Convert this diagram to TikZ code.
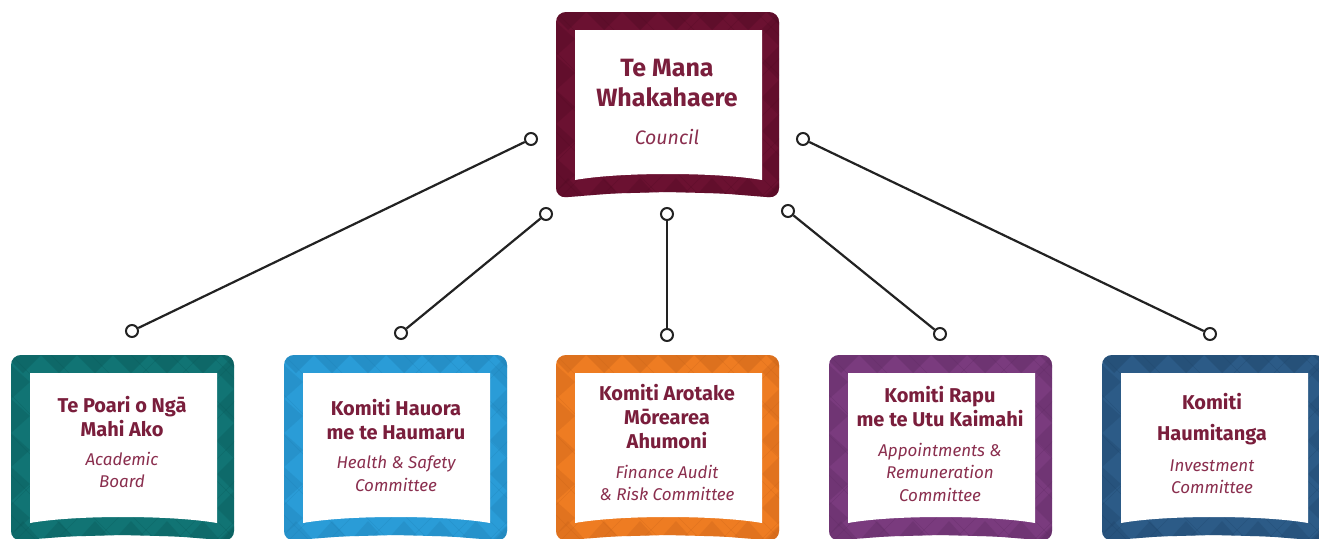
\documentclass[tikz,border=0pt]{standalone}
\usepackage{fontspec}
\setmainfont{Fira Sans}
\definecolor{ttlc}{HTML}{7A1E3C}
\definecolor{subc}{HTML}{8A2E4E}
\definecolor{linec}{HTML}{222222}
\definecolor{maroonA}{HTML}{6B1131}\definecolor{maroonB}{HTML}{4E0A22}
\definecolor{tealA}{HTML}{117474}\definecolor{tealB}{HTML}{0A5656}
\definecolor{blueA}{HTML}{2A9CD7}\definecolor{blueB}{HTML}{1F7DB0}
\definecolor{orangeA}{HTML}{EE7C22}\definecolor{orangeB}{HTML}{C4611A}
\definecolor{purpleA}{HTML}{7A3B7E}\definecolor{purpleB}{HTML}{5C2A60}
\definecolor{navyA}{HTML}{2C5B87}\definecolor{navyB}{HTML}{1E4266}
\newcommand\kframe[4]{%
 \begin{scope}[shift={(#1,#2)}]
  \path[fill=#3, rounded corners=10] (0,0) -- (223,0) -- (223,186) -- (167,181.5) -- (111.5,180) -- (56,181.5) -- (0,186) -- cycle;
  \begin{scope}
   \clip[rounded corners=10] (0,0) -- (223,0) -- (223,186) -- (167,181.5) -- (111.5,180) -- (56,181.5) -- (0,186) -- cycle;
   \foreach \i in {0,...,6} {
     \fill[#4, opacity=.4] (\i*36-6,0) -- (\i*36+12,18) -- (\i*36+30,0) -- cycle;
     \fill[#4, opacity=.3] (\i*36-6,186) -- (\i*36+12,166) -- (\i*36+30,186) -- cycle;
   }
   \foreach \j in {0,...,5} {
     \fill[#4, opacity=.3] (0,\j*34+10) -- (19,\j*34+27) -- (0,\j*34+44) -- cycle;
     \fill[#4, opacity=.3] (223,\j*34) -- (206,\j*34+17) -- (223,\j*34+34) -- cycle;
   }
   \foreach \k in {-200,-160,...,240} {
     \draw[#4, opacity=.3, line width=.4pt] (\k,0) -- (\k+190,190);
   }
   \foreach \k in {150,190,...,460} {
     \draw[#4, opacity=.3, line width=.4pt] (\k,0) -- (\k-190,190);
   }
  \end{scope}
  \fill[white] (19,18) -- (206,18) -- (206,168) .. controls (160,160) and (63,160) .. (19,168) -- cycle;
 \end{scope}}
\tikzset{
 dot/.style={circle, draw=linec, fill=white, line width=2pt, minimum size=12pt, inner sep=0pt},
 conn/.style={draw=linec, line width=2.2pt},
 ttl/.style={text=ttlc, align=center, font=\fontsize{20}{24}\selectfont\bfseries},
 bigttl/.style={text=ttlc, align=center, font=\fontsize{25}{30}\selectfont\bfseries},
 sub/.style={text=subc, align=center, font=\fontsize{17}{22.5}\selectfont\itshape},
}
\begin{document}
\begin{tikzpicture}[x=1pt,y=-1pt]
\useasboundingbox (0,0) rectangle (1319,538);
\clip (0,0) rectangle (1319,538);
\fill[white] (0,0) rectangle (1319,538);
% frames
\kframe{556}{12}{maroonA}{maroonB}
\kframe{11}{355}{tealA}{tealB}
\kframe{284}{355}{blueA}{blueB}
\kframe{556}{355}{orangeA}{orangeB}
\kframe{829}{355}{purpleA}{purpleB}
\kframe{1102}{355}{navyA}{navyB}
% texts
\node[bigttl] (t0) at (667,83) {Te Mana\\Whakahaere};
\node[sub, font=\fontsize{19.5}{24}\selectfont\itshape] (s0) at (667,137) {Council};
\node[ttl] (t1) at (122,416.5) {Te Poari o Ngā\\Mahi Ako};
\node[sub] (s1) at (122,470) {Academic\\Board};
\node[ttl] (t2) at (396,420) {Komiti Hauora\\me te Haumaru};
\node[sub] (s2) at (396,473.5) {Health \& Safety\\Committee};
\node[ttl] (t3) at (667,417) {Komiti Arotake\\Mōrearea\\Ahumoni};
\node[sub] (s3) at (667,483) {Finance Audit\\\& Risk Committee};
\node[ttl] (t4) at (940,407) {Komiti Rapu\\me te Utu Kaimahi};
\node[sub] (s4) at (940,472) {Appointments \&\\Remuneration\\Committee};
\node[ttl, font=\fontsize{20}{31}\selectfont\bfseries] (t5) at (1212,419.5) {Komiti\\Haumitanga};
\node[sub] (s5) at (1212,476.5) {Investment\\Committee};
% connector ends
\node[dot] (a1) at (531,139) {};
\node[dot] (b1) at (132,331) {};
\node[dot] (a2) at (546,214) {};
\node[dot] (b2) at (401,333) {};
\node[dot] (a3) at (667,214) {};
\node[dot] (b3) at (667,335) {};
\node[dot] (a4) at (788,211) {};
\node[dot] (b4) at (940,334) {};
\node[dot] (a5) at (803,139) {};
\node[dot] (b5) at (1210,334) {};
\draw[conn] (a1) -- (b1);
\draw[conn] (a2) -- (b2);
\draw[conn] (a3) -- (b3);
\draw[conn] (a4) -- (b4);
\draw[conn] (a5) -- (b5);
\end{tikzpicture}
\end{document}
